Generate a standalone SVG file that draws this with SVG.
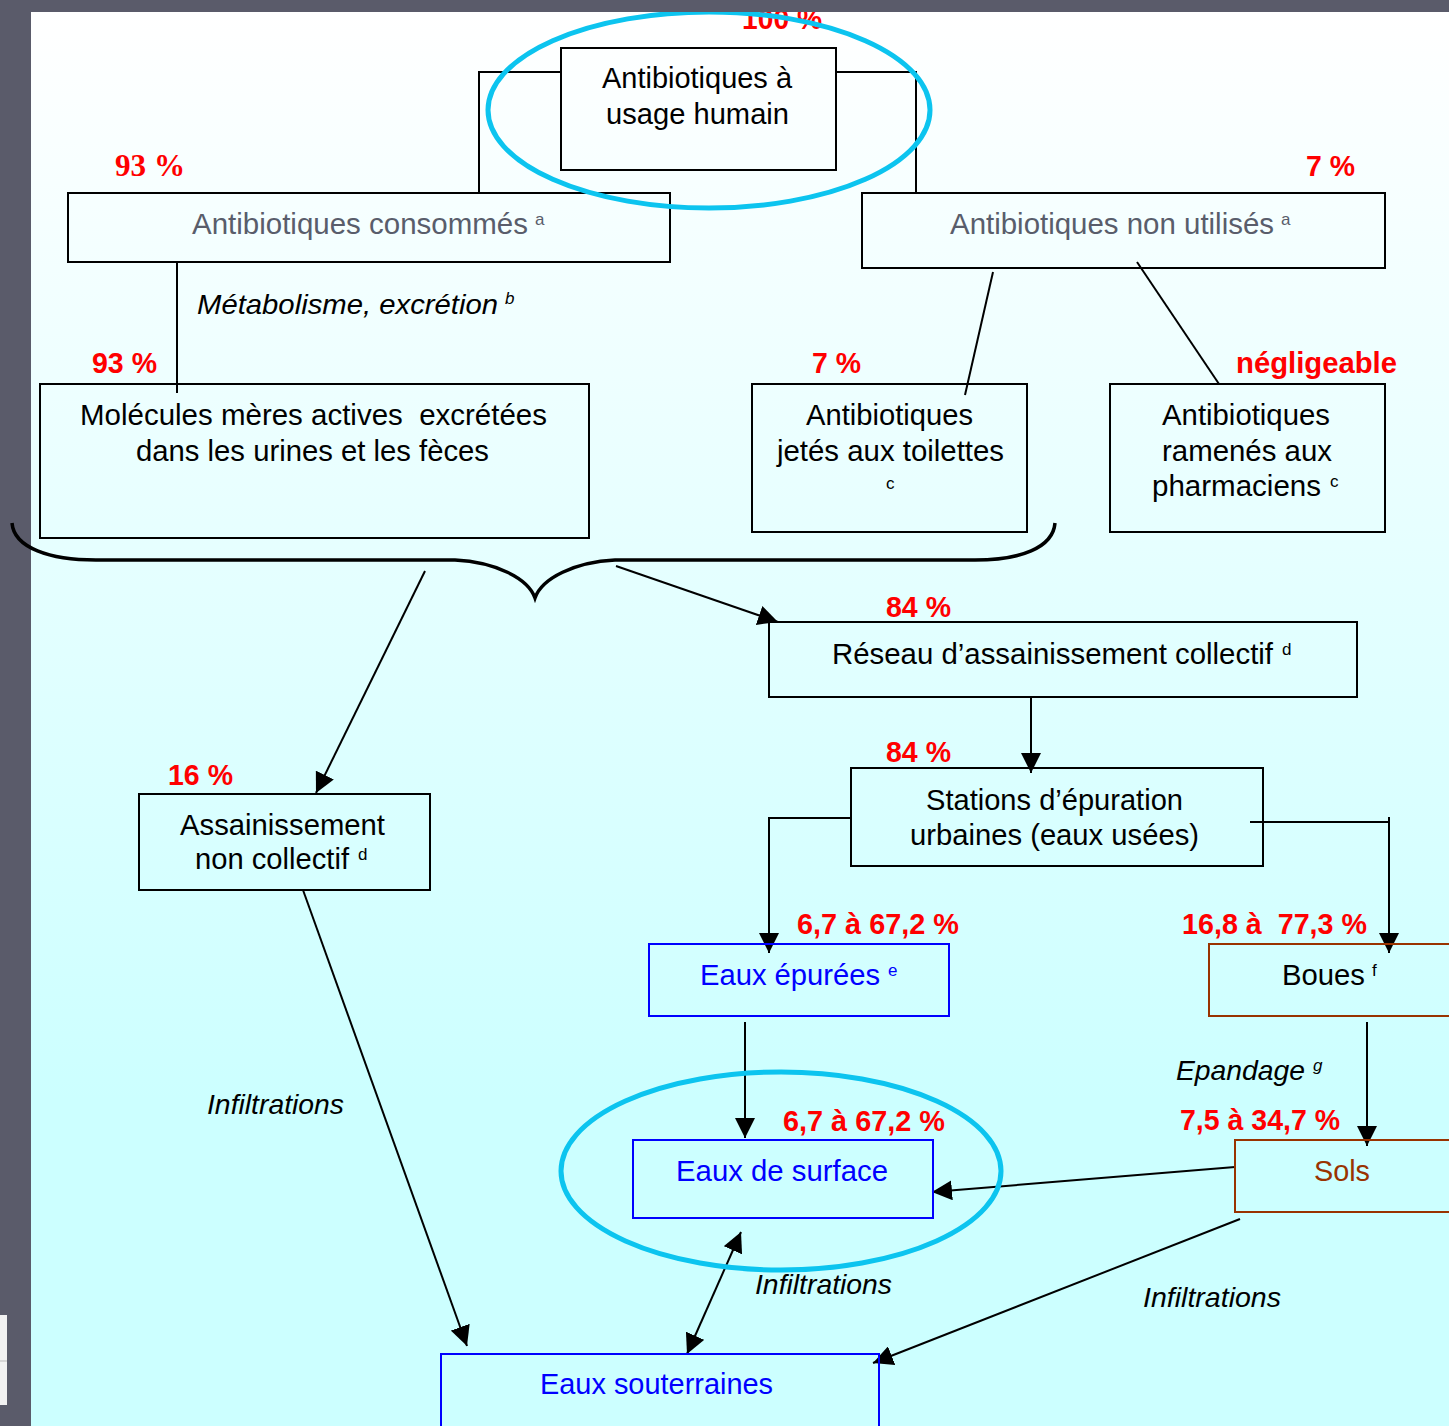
<svg xmlns="http://www.w3.org/2000/svg" width="1449" height="1426" viewBox="0 0 1449 1426">
<defs>
<linearGradient id="bg" gradientUnits="userSpaceOnUse" x1="0" y1="12" x2="0" y2="1100">
<stop offset="0" stop-color="#ffffff"/>
<stop offset="1" stop-color="#ccffff"/>
</linearGradient>
<marker id="ah" markerUnits="userSpaceOnUse" markerWidth="20" markerHeight="20" refX="20" refY="10" orient="auto-start-reverse" viewBox="0 0 20 20">
<path d="M0,0 L20,10 L0,20 z" fill="#000"/>
</marker>
<style>
.box{fill:none;stroke:#000;stroke-width:2}
.bl{fill:none;stroke:#0000ff;stroke-width:2}
.br{fill:none;stroke:#993300;stroke-width:2}
.t{font-family:"Liberation Sans",Arial,sans-serif;font-size:30px;fill:#000;white-space:pre}
.g{fill:#595d6b}
.blue{fill:#0000ff}
.brown{fill:#993300}
.it{font-family:"Liberation Sans",Arial,sans-serif;font-size:28px;font-style:italic;fill:#000}
.sup{font-family:"Liberation Sans",Arial,sans-serif;font-size:17px}
.r{font-family:"Liberation Sans",Arial,sans-serif;font-size:30px;font-weight:bold;fill:#ff0000;white-space:pre}
.rs{font-family:"Liberation Serif","Times New Roman",serif;font-size:31px;font-weight:bold;fill:#ff0000}
.c{fill:none;stroke:#000;stroke-width:2}
.ell{fill:none;stroke:#0cc4ef;stroke-width:5}
.frame{fill:#5a5b6a}
</style>
</defs>
<rect x="0" y="0" width="1449" height="1426" fill="url(#bg)"/>
<rect class="frame" x="0" y="0" width="31" height="1426"/>
<rect x="0" y="1315" width="7" height="90" fill="#f2f2f2"/>
<line x1="0" y1="1361" x2="7" y2="1361" stroke="#bbbbbb" stroke-width="1"/>

<g id="labels">
<text class="r" x="742" y="29" textLength="80" lengthAdjust="spacingAndGlyphs">100 %</text>
<text class="rs" x="115" y="176" textLength="70" lengthAdjust="spacingAndGlyphs">93 %</text>
<text class="r" x="1306" y="176" textLength="49" lengthAdjust="spacingAndGlyphs">7 %</text>
<text class="it" x="197" y="314" textLength="301" lengthAdjust="spacingAndGlyphs">Métabolisme, excrétion</text>
<text class="sup" x="505" y="304" font-style="italic">b</text>
<text class="r" x="92" y="373" textLength="65" lengthAdjust="spacingAndGlyphs">93 %</text>
<text class="r" x="812" y="373" textLength="49" lengthAdjust="spacingAndGlyphs">7 %</text>
<text class="r" x="1236" y="373" textLength="161" lengthAdjust="spacingAndGlyphs">négligeable</text>
<text class="r" x="886" y="617" textLength="65" lengthAdjust="spacingAndGlyphs">84 %</text>
<text class="r" x="886" y="762" textLength="65" lengthAdjust="spacingAndGlyphs">84 %</text>
<text class="r" x="168" y="785" textLength="65" lengthAdjust="spacingAndGlyphs">16 %</text>
<text class="r" x="797" y="934" textLength="162" lengthAdjust="spacingAndGlyphs">6,7 à 67,2 %</text>
<text class="r" x="1182" y="934" textLength="185" lengthAdjust="spacingAndGlyphs">16,8 à  77,3 %</text>
<text class="r" x="783" y="1131" textLength="162" lengthAdjust="spacingAndGlyphs">6,7 à 67,2 %</text>
<text class="r" x="1180" y="1130" textLength="160" lengthAdjust="spacingAndGlyphs">7,5 à 34,7 %</text>
<text class="it" x="1176" y="1080" textLength="129" lengthAdjust="spacingAndGlyphs">Epandage</text>
<text class="sup" x="1313" y="1071" font-style="italic">g</text>
<text class="it" x="207" y="1114" textLength="137" lengthAdjust="spacingAndGlyphs">Infiltrations</text>
<text class="it" x="755" y="1294" textLength="137" lengthAdjust="spacingAndGlyphs">Infiltrations</text>
<text class="it" x="1143" y="1307" textLength="138" lengthAdjust="spacingAndGlyphs">Infiltrations</text>
</g>

<g id="connectors">
<polyline class="c" points="561,72 479,72 479,193"/>
<polyline class="c" points="836,72 916,72 916,193"/>
<line class="c" x1="177" y1="262" x2="177" y2="393"/>
<line class="c" x1="993" y1="272" x2="965" y2="395"/>
<line class="c" x1="1137" y1="262" x2="1219" y2="384"/>
<path d="M12,523 C14,548 50,560 96,560 L455,560 C495,562 528,578 535,598 C542,578 575,562 615,560 L975,560 C1020,560 1053,548 1055,523" fill="none" stroke="#000" stroke-width="3.5"/>
<line class="c" x1="425" y1="571" x2="316" y2="793" marker-end="url(#ah)"/>
<line class="c" x1="616" y1="566" x2="778" y2="622" marker-end="url(#ah)"/>
<line class="c" x1="1031" y1="697" x2="1031" y2="773" marker-end="url(#ah)"/>
<polyline class="c" points="851,818 769,818 769,953" marker-end="url(#ah)"/>
<polyline class="c" points="1250,822 1389,822 1389,953" marker-end="url(#ah)"/>
<line class="c" x1="1389" y1="817" x2="1389" y2="823"/>
<line class="c" x1="745" y1="1022" x2="745" y2="1138" marker-end="url(#ah)"/>
<line class="c" x1="1367" y1="1022" x2="1367" y2="1146" marker-end="url(#ah)"/>
<line class="c" x1="1235" y1="1167" x2="932" y2="1192" marker-end="url(#ah)"/>
<line class="c" x1="1240" y1="1219" x2="873" y2="1363" marker-end="url(#ah)"/>
<line class="c" x1="741" y1="1232" x2="687" y2="1354" marker-start="url(#ah)" marker-end="url(#ah)"/>
<line class="c" x1="303" y1="890" x2="467" y2="1346" marker-end="url(#ah)"/>
</g>

<g id="n-humain">
<rect class="box" x="561" y="48" width="275" height="122"/>
<text class="t" x="602" y="88" textLength="190" lengthAdjust="spacingAndGlyphs">Antibiotiques à</text>
<text class="t" x="606" y="124" textLength="183" lengthAdjust="spacingAndGlyphs">usage humain</text>
</g>
<g id="n-consommes">
<rect class="box" x="68" y="193" width="602" height="69"/>
<text class="t g" x="192" y="234" textLength="336" lengthAdjust="spacingAndGlyphs">Antibiotiques consommés</text>
<text class="sup g" x="535" y="225">a</text>
</g>
<g id="n-nonutilises">
<rect class="box" x="862" y="193" width="523" height="75"/>
<text class="t g" x="950" y="234" textLength="324" lengthAdjust="spacingAndGlyphs">Antibiotiques non utilisés</text>
<text class="sup g" x="1281" y="225">a</text>
</g>
<g id="n-molecules">
<rect class="box" x="40" y="384" width="549" height="154"/>
<text class="t" x="80" y="425" textLength="467" lengthAdjust="spacingAndGlyphs">Molécules mères actives  excrétées</text>
<text class="t" x="136" y="461" textLength="353" lengthAdjust="spacingAndGlyphs">dans les urines et les fèces</text>
</g>
<g id="n-toilettes">
<rect class="box" x="752" y="384" width="275" height="148"/>
<text class="t" x="806" y="425" textLength="167" lengthAdjust="spacingAndGlyphs">Antibiotiques</text>
<text class="t" x="777" y="461" textLength="227" lengthAdjust="spacingAndGlyphs">jetés aux toilettes</text>
<text class="sup" x="886" y="489">c</text>
</g>
<g id="n-pharmaciens">
<rect class="box" x="1110" y="384" width="275" height="148"/>
<text class="t" x="1162" y="425" textLength="168" lengthAdjust="spacingAndGlyphs">Antibiotiques</text>
<text class="t" x="1162" y="461" textLength="170" lengthAdjust="spacingAndGlyphs">ramenés aux</text>
<text class="t" x="1152" y="496" textLength="169" lengthAdjust="spacingAndGlyphs">pharmaciens</text>
<text class="sup" x="1330" y="487">c</text>
</g>
<g id="n-reseau">
<rect class="box" x="769" y="622" width="588" height="75"/>
<text class="t" x="832" y="664" textLength="441" lengthAdjust="spacingAndGlyphs">Réseau d’assainissement collectif</text>
<text class="sup" x="1282" y="655">d</text>
</g>
<g id="n-stations">
<rect class="box" x="851" y="768" width="412" height="98"/>
<text class="t" x="926" y="810" textLength="257" lengthAdjust="spacingAndGlyphs">Stations d’épuration</text>
<text class="t" x="910" y="845" textLength="289" lengthAdjust="spacingAndGlyphs">urbaines (eaux usées)</text>
</g>
<g id="n-assainissement">
<rect class="box" x="139" y="794" width="291" height="96"/>
<text class="t" x="180" y="835" textLength="205" lengthAdjust="spacingAndGlyphs">Assainissement</text>
<text class="t" x="195" y="869" textLength="154" lengthAdjust="spacingAndGlyphs">non collectif</text>
<text class="sup" x="358" y="860">d</text>
</g>
<g id="n-epurees">
<rect class="bl" x="649" y="944" width="300" height="72"/>
<text class="t blue" x="700" y="985" textLength="180" lengthAdjust="spacingAndGlyphs">Eaux épurées</text>
<text class="sup blue" x="888" y="976">e</text>
</g>
<g id="n-boues">
<rect class="br" x="1209" y="944" width="260" height="72"/>
<text class="t" x="1282" y="985" textLength="83" lengthAdjust="spacingAndGlyphs">Boues</text>
<text class="sup" x="1372" y="976">f</text>
</g>
<g id="n-surface">
<rect class="bl" x="633" y="1140" width="300" height="78"/>
<text class="t blue" x="676" y="1181" textLength="212" lengthAdjust="spacingAndGlyphs">Eaux de surface</text>
</g>
<g id="n-sols">
<rect class="br" x="1235" y="1140" width="230" height="72"/>
<text class="t brown" x="1314" y="1181" textLength="56" lengthAdjust="spacingAndGlyphs">Sols</text>
</g>
<g id="n-souterraines">
<rect class="bl" x="441" y="1354" width="438" height="90"/>
<text class="t blue" x="540" y="1394" textLength="233" lengthAdjust="spacingAndGlyphs">Eaux souterraines</text>
</g>

<g id="highlights">
<ellipse class="ell" cx="709" cy="110" rx="221" ry="98"/>
<ellipse class="ell" cx="781" cy="1171" rx="220" ry="99"/>
</g>

<rect class="frame" x="0" y="0" width="1449" height="12"/>
</svg>
